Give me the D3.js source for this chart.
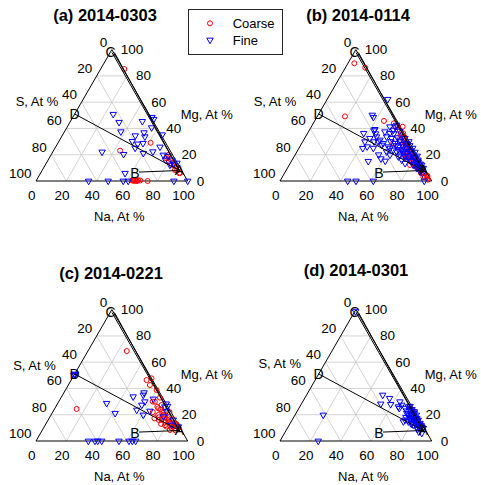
<!DOCTYPE html>
<html><head><meta charset="utf-8">
<script src="https://cdn.jsdelivr.net/npm/d3@7/dist/d3.min.js"></script>
<style>
body{margin:0;background:#fff}
svg text{font-family:"Liberation Sans",Arial,Helvetica,sans-serif;fill:#000}
</style>
</head><body>
<svg id="chart" width="481" height="485"></svg>
<script>
// ---- data (Na, Mg) in At %, S = 100 - Na - Mg ----
const panelTitles = ["(a) 2014-0303", "(b) 2014-0114", "(c) 2014-0221", "(d) 2014-0301"];
const tickValues = [0, 20, 40, 60, 80, 100];
const axisNames = ["Na, At %", "S, At %", "Mg, At %"];
const legendLabels = ["Coarse", "Fine"];

const coarseA = [[15.6,85.2],[61,29.1],[43.9,23.1],[77.3,19.8],[80.5,16.5],[76.9,18.5],[83.5,13.9],[87.3,10.9],[91.5,5.9],[87.4,8.4],[83.3,12.2],[80,15.2],[91.7,6.3],[77.1,17.3],[85,12],[89,8],
  [63,0.5],[64,0.8],[65,0.5],[66,0.3],[67,0.6],[68.5,0.4],[64.5,0],[66.5,0],[73.6,0]];
const fineA = [[25.5,50.8],[32.4,44.7],[37.2,37.5],[47.4,45.4],[52.2,48.5],[54.1,47],[55.9,40.6],[52.8,36.8],[54.9,33.7],[48.2,34.5],[48.4,30.2],[52.9,28.2],[56.2,28.7],[52.8,25.1],[65.6,35.2],[68.8,25.9],[65.9,22.3],[60.2,21.1],[47.6,20.3],[32.5,22.1],[74,19.8],[55.8,5.9],[77.5,19],[81.6,16],[84.4,12.9],[82.2,12.2],[77.3,16],[86.1,13.7],
  [34.7,0],[47.6,0],[57.5,0],[60.8,0],[90.9,0],[100,0]];

const coarseB = [[4.2,89.6],[13.1,86.2],[18.2,49.2],[45.7,45.7],[53.1,43.9],[60.2,41.3],[63.1,36.3],[65,33.7],[69.8,28.5],[60.3,28.7],[74.3,18.5],[79.8,16],[83,15],[90,8.5],[95.5,3.5],[92,6],[85.7,10.9],[79.6,12.2],
  [56,41],[66,31],[70,27],[73,24],[76,21],[79,18],[82,15],[88,9],[94,3],[96,2],[74,18],[86,10],[97,1],[93,3],[72,20],[80,14],[84,11],[90,6],[62,35],[68,29],
  [58,39],[64,33],[68,28.5],[71,25.5],[75,22],[78,19.5],[81,16.5],[84,13.5],[87,10.5],[89,8],[91,7],[95,4],[83,12],[76,19],[70,23]];
const fineB = [[39.9,62.2],[35.7,50.2],[37.3,48.5],[42.8,38.3],[42.9,39.3],[37,36.3],[43,32.5],[41,29.9],[42.1,24.9],[44.4,26.1],[50.7,15],[61.8,15.2],
  [50.3,31.2],[53.7,28.7],[53.4,33.7],[54.3,36.3],[55.3,38.8],[55.1,41.3],[55.6,42.6],[57.3,32.5],[58.3,26.1],[62.9,23.6],[65.7,22.3],[69.2,19.8],[68.2,26.1],[69.1,28.7],[73.9,23.6],[75.4,18.5],[78.6,18.5],[83.4,13.5],[86.9,10.9],[75.7,13.5],[72.2,16],[68.8,18.5],[62.6,19.8],[59.1,22.3],[53.3,27.4],[49.8,29.9],[46.8,33.7],[50.4,37.5],[51.8,41.3],
  [76.3,21.1],[80.4,17.3],[83.8,14.7],[87.3,12.2],[89.6,9.7],[72.3,22.3],[70.8,21.1],[77.7,16],[81.7,12.2],[85.3,9.7],[88.8,7.1],[68.4,23.6],[64.9,26.1],[61.4,28.7],[63.5,31.2],[66.1,32.5],[69,28],
  [60,25],[63,27],[66,24],[70,22],[73,19],[76,17],[79,15],[82,13],[85,11],[88,9],[71,25],[74,22.5],[77,20],[80,18],[83,16],[86,13],[89,8],[91,6],[67,28],[70,30],[72,27],[75,25],[78,22],[81,19],[84,14],[87,10],[58,30],[61,33],[64,30],[57,36],[60,38],[47,30],[45,36],[49,25],[55,20],[58,17],
  [44.6,0],[50.1,0],[61.5,0],[95.1,0]];

const coarseC = [[25.6,68.5],[14.6,24.4],[49.7,46.4],[52.3,47.7],[53.8,42.6],[60.1,38.8],[63.4,29.9],[65.2,33],[69.1,27.4],[68.2,24.9],[69.4,17.3],[72.7,22.3],[75.1,19.8],[78.6,17.3],[81,14.7],[77,22],[82,16.5],[86.6,12.2],[80.7,10.9],[84.6,9.7],[87.5,11.5],[89,10],[74.8,16],[70.7,19.8],[77.7,14.7],[84.1,8.4],[86,13],[66,22],[72,18],[79,12],[83,11],[88,8],
  [62,30],[67,26],[70,24],[74,20],[76,18],[80,15],[82,13],[85,11],[87,9.5],[79,16],[73,16],[76,13]];
const fineC = [[52.8,36.8],[53.2,35],[56.8,29.9],[56,27.4],[47.2,33.7],[61.3,32],[32.2,28.7],[41.6,21.1],[54.6,23.6],[60.8,19.8],[63.7,22.8],[71.9,26.1],[73.5,26.5],[74.9,22.3],[74.7,18.5],[82.5,16],[88.4,10.9],[71.7,28.3],[83.3,12.2],
  [0,50],[0,51],[0.5,50.5],
  [34.5,0],[38.9,0],[40.7,0],[43.3,0],[54.7,0],[61.3,0],[63.5,0],[65.7,0]];

const coarseD = [[85,13],[87,11.5]];
const fineD = [[0.5,98.5],[18.6,19.8],[25.2,0],[50.2,35],[56,32.5],[59,27.9],[52.3,28.2],[64.1,29.9],[66.5,27.4],[64.9,26.1],[66.2,24.9],[74.4,16],[77.3,14.7],[80.1,13.5],
  [71.5,26.1],[73.9,23.6],[76.6,22.3],[75,24],[78,21.1],[77.5,22.3],[80,19.8],[76.9,19.8],[80.4,17.3],[83.1,16],[85.6,13.5],[88,10.9],[89.6,9.7],[90.5,5.9],[81.7,12.2],[84.7,10.9],[77.1,17.3],[73,21.1],[72.5,26.5],[81.5,17.3],[74,14.7],[89,10],[86,12],[82,15],[79,18],[76,21],
  [78,16],[80,16],[82,14],[84,13],[86,11],[87,12],[83,15.5],[79,19],[81,17],[77,19.5],[75,20],[78,19],[86,9],[88,7],[85,12.5],[80,13],[76,16],[74,18],[72,23],[70,25]];

// reference end-members (Na, Mg)
const endMembers = {A:[90.5,8], B:[64.5,6.8], C1:[1.2,97.8], C2:[2.8,97.8], D:[0,51]};

const coarseSets = [coarseA, coarseB, coarseC, coarseD];
const fineSets = [fineA, fineB, fineC, fineD];

// ---- layout ----
const svg = d3.select("#chart");
const W = 151.7, H = W*Math.sqrt(3)/2;
const panelOrigins = [[36,181],[280,181],[36,441],[280,441]];
const titlePos = [[105,15],[358,15],[111,273],[356,270]];
const sLabelPos = [[37,101],[31,101],[34.5,105],[35.7,103.3]];

panelOrigins.forEach((o, i) => {
  const x = d3.scaleLinear().domain([0,100]).range([o[0], o[0]+W]);
  const y = d3.scaleLinear().domain([0,100]).range([o[1], o[1]-H]);
  const P = (na, mg) => [x(na + mg/2), y(mg)];
  const g = svg.append("g");

  // grid
  const grid = [];
  [20,40,60,80].forEach(v => {
    grid.push([P(0,v), P(100-v,v)]);
    grid.push([P(v,0), P(v,100-v)]);
    grid.push([P(100-v,0), P(0,100-v)]);
  });
  g.selectAll("line.grid").data(grid).join("line")
    .attr("x1",d=>d[0][0]).attr("y1",d=>d[0][1]).attr("x2",d=>d[1][0]).attr("y2",d=>d[1][1])
    .attr("stroke","#c8c8c8").attr("stroke-width",0.8);
  // frame
  g.append("path").attr("d", d3.line()([P(0,0),P(100,0),P(0,100)]) + "Z")
    .attr("fill","none").attr("stroke","#000").attr("stroke-width",1);

  // tick labels
  g.selectAll("text.na").data(tickValues).join("text")
    .attr("x", v => P(v,0)[0]-4.3).attr("y", v => P(v,0)[1]+14.7)
    .attr("text-anchor","middle").attr("dominant-baseline","central").attr("font-size",13.5).text(v=>v);
  g.selectAll("text.mg").data(tickValues).join("text")
    .attr("x", v => P(100-v,v)[0]+9).attr("y", v => P(100-v,v)[1])
    .attr("text-anchor","start").attr("dominant-baseline","central").attr("font-size",13.5).text(v=>v);
  g.selectAll("text.s").data(tickValues).join("text")
    .attr("x", v => P(0,100-v)[0]-4.5).attr("y", v => P(0,100-v)[1]-7.5)
    .attr("text-anchor","end").attr("dominant-baseline","central").attr("font-size",13.5).text(v=>v);

  // axis names
  g.append("text").attr("x", o[0]+83.3).attr("y", o[1]+35).attr("text-anchor","middle").attr("dominant-baseline","central").attr("font-size",13).text(axisNames[0]);
  g.append("text").attr("x", o[0]-36+sLabelPos[i][0]).attr("y", o[1]-181+sLabelPos[i][1]).attr("text-anchor","middle").attr("dominant-baseline","central").attr("font-size",13).text(axisNames[1]);
  g.append("text").attr("x", o[0]+170.7).attr("y", o[1]-66.7).attr("text-anchor","middle").attr("dominant-baseline","central").attr("font-size",13).text(axisNames[2]);

  // title
  g.append("text").attr("x", titlePos[i][0]).attr("y", titlePos[i][1]).attr("text-anchor","middle").attr("dominant-baseline","central")
    .attr("font-size",16.5).attr("font-weight","bold").text(panelTitles[i]);

  // points
  g.selectAll("circle.coarse").data(coarseSets[i]).join("circle")
    .attr("cx", d=>P(d[0],d[1])[0]).attr("cy", d=>P(d[0],d[1])[1]).attr("r",2.5)
    .attr("fill","none").attr("stroke","#ff0000").attr("stroke-width",1);
  const tri = d3.symbol().type(d3.symbolTriangle).size(18);
  g.selectAll("path.fine").data(fineSets[i]).join("path")
    .attr("d", tri).attr("transform", d=>{const p=P(d[0],d[1]);return `translate(${p[0]},${p[1]}) rotate(180)`;})
    .attr("fill","none").attr("stroke","#0000ff").attr("stroke-width",1);

  // end-member lines
  const e = endMembers;
  const segs = [[e.C1,e.A],[e.C2,e.A],[e.D,e.A],[e.B,e.A]];
  g.selectAll("line.em").data(segs).join("line")
    .attr("x1",d=>P(...d[0])[0]).attr("y1",d=>P(...d[0])[1]).attr("x2",d=>P(...d[1])[0]).attr("y2",d=>P(...d[1])[1])
    .attr("stroke","#000").attr("stroke-width",1);
  const lab = [["A",e.A,0,0],["B",e.B,-4,0.5],["C",[0,99],-0.5,1.5],["D",e.D,0,0]];
  g.selectAll("text.em").data(lab).join("text")
    .attr("x",d=>P(...d[1])[0]+d[2]).attr("y",d=>P(...d[1])[1]+d[3])
    .attr("text-anchor","middle").attr("dominant-baseline","central").attr("font-size",14).text(d=>d[0]);
});

// legend
const lg = svg.append("g");
lg.append("rect").attr("x",188.5).attr("y",9.5).attr("width",94).attr("height",45).attr("fill","#fff").attr("stroke","#262626").attr("stroke-width",1);
lg.append("circle").attr("cx",210).attr("cy",23.3).attr("r",2.5).attr("fill","none").attr("stroke","#ff0000").attr("stroke-width",1);
lg.append("path").attr("d", d3.symbol().type(d3.symbolTriangle).size(18)).attr("transform","translate(210,40) rotate(180)")
  .attr("fill","none").attr("stroke","#0000ff").attr("stroke-width",1);
lg.selectAll("text").data(legendLabels).join("text").attr("x",232.7).attr("y",(d,i)=>i?40:23.3)
  .attr("dominant-baseline","central").attr("font-size",13).text(d=>d);
</script>
</body></html>
